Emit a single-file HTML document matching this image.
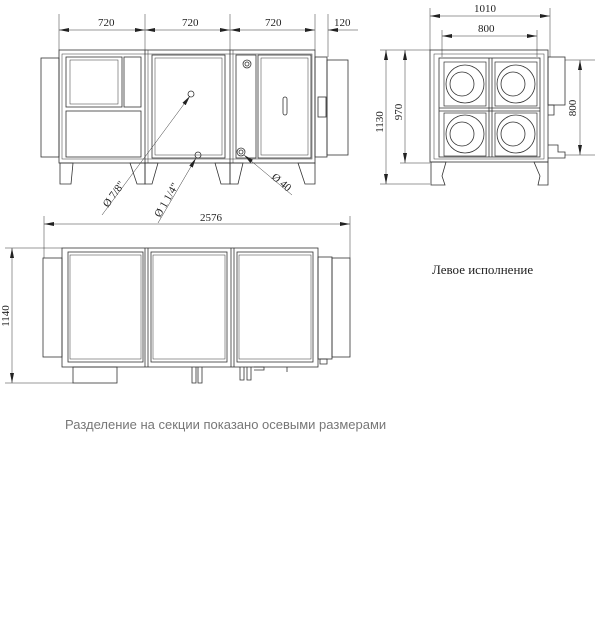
<!DOCTYPE html>
<html><head><meta charset="utf-8"><style>
html,body{margin:0;padding:0;background:#fff}
svg{display:block}
text{font-family:"Liberation Serif",serif;fill:#222}
</style></head><body>
<svg width="600" height="643" viewBox="0 0 600 643" xmlns="http://www.w3.org/2000/svg">
<defs>
<marker id="a" viewBox="0 0 10 4" refX="10" refY="2" markerWidth="10" markerHeight="4" orient="auto-start-reverse" markerUnits="userSpaceOnUse"><path d="M0,0 L10,2 L0,4z" fill="#222"/></marker>
</defs>
<g stroke="#333" fill="none" stroke-width="0.8">
<!-- TOP VIEW -->
<line x1="59" y1="14" x2="59" y2="50" stroke-width="0.5"/>
<line x1="145" y1="14" x2="145" y2="50" stroke-width="0.5"/>
<line x1="230" y1="14" x2="230" y2="50" stroke-width="0.5"/>
<line x1="315" y1="14" x2="315" y2="50" stroke-width="0.5"/>
<line x1="328" y1="14" x2="328" y2="57" stroke-width="0.5"/>
<line x1="59" y1="30" x2="145" y2="30" stroke-width="0.5" marker-start="url(#a)" marker-end="url(#a)"/>
<line x1="145" y1="30" x2="230" y2="30" stroke-width="0.5" marker-start="url(#a)" marker-end="url(#a)"/>
<line x1="230" y1="30" x2="315" y2="30" stroke-width="0.5" marker-start="url(#a)" marker-end="url(#a)"/>
<line x1="328" y1="30" x2="345" y2="30" stroke-width="0.5" marker-start="url(#a)"/>
<line x1="345" y1="30" x2="358" y2="30" stroke-width="0.5"/>
<rect x="41" y="58" width="18" height="99"/>
<rect x="315" y="57" width="12" height="100"/>
<rect x="327" y="60" width="21" height="95"/>
<rect x="59" y="50" width="256" height="113"/>
<rect x="62" y="54" width="250" height="105" stroke-width="0.5"/>
<line x1="145" y1="50" x2="145" y2="163"/><line x1="148" y1="50" x2="148" y2="163" stroke-width="0.5"/>
<line x1="230" y1="50" x2="230" y2="163"/><line x1="233" y1="50" x2="233" y2="163" stroke-width="0.5"/>
<rect x="66" y="57" width="56" height="50"/><rect x="70" y="60" width="48" height="44" stroke-width="0.5"/>
<rect x="124" y="57" width="17" height="50"/>
<rect x="66" y="111" width="75" height="46"/>
<rect x="152" y="55" width="73" height="103"/><rect x="155" y="58" width="67" height="97" stroke-width="0.5"/>
<rect x="236" y="55" width="20" height="103"/><rect x="258" y="55" width="53" height="103"/><rect x="261" y="58" width="47" height="97" stroke-width="0.5"/>
<circle cx="247" cy="64" r="4"/><circle cx="247" cy="64" r="2"/>
<circle cx="241" cy="152" r="4"/><circle cx="241" cy="152" r="2"/>
<circle cx="191" cy="94" r="3"/><circle cx="198" cy="155" r="3"/>
<rect x="283" y="97" width="4" height="18" rx="2"/>
<rect x="318" y="97" width="8" height="20"/>
<!-- feet -->
<path d="M60 163 H73 L71 184 H60 Z"/>
<path d="M130 163 H145 V184 H137 Z"/>
<path d="M145 163 H158 L152 184 H145 Z"/>
<path d="M215 163 H230 V184 H221 Z"/>
<path d="M230 163 H243 L238 184 H230 Z"/>
<path d="M298 163 H315 V184 H305 Z"/>
<!-- leaders -->
<line x1="190" y1="96" x2="102" y2="215" stroke-width="0.5" marker-start="url(#a)"/>
<line x1="196" y1="158" x2="158" y2="223" stroke-width="0.5" marker-start="url(#a)"/>
<line x1="244" y1="155" x2="292" y2="195" stroke-width="0.5" marker-start="url(#a)"/>
<!-- RIGHT VIEW -->
<line x1="430" y1="8" x2="430" y2="50" stroke-width="0.5"/>
<line x1="550" y1="8" x2="550" y2="57" stroke-width="0.5"/>
<line x1="442" y1="30" x2="442" y2="57" stroke-width="0.5"/>
<line x1="537" y1="30" x2="537" y2="57" stroke-width="0.5"/>
<line x1="430" y1="16" x2="550" y2="16" stroke-width="0.5" marker-start="url(#a)" marker-end="url(#a)"/>
<line x1="442" y1="36" x2="537" y2="36" stroke-width="0.5" marker-start="url(#a)" marker-end="url(#a)"/>
<line x1="380" y1="50" x2="430" y2="50" stroke-width="0.5"/>
<line x1="380" y1="184" x2="430" y2="184" stroke-width="0.5"/>
<line x1="400" y1="163" x2="430" y2="163" stroke-width="0.5"/>
<line x1="386" y1="50" x2="386" y2="184" stroke-width="0.5" marker-start="url(#a)" marker-end="url(#a)"/>
<line x1="405" y1="50" x2="405" y2="163" stroke-width="0.5" marker-start="url(#a)" marker-end="url(#a)"/>
<line x1="565" y1="60" x2="595" y2="60" stroke-width="0.5"/>
<line x1="565" y1="155" x2="595" y2="155" stroke-width="0.5"/>
<line x1="580" y1="60" x2="580" y2="155" stroke-width="0.5" marker-start="url(#a)" marker-end="url(#a)"/>
<rect x="430" y="50" width="118" height="112"/>
<rect x="434" y="54" width="110" height="105" stroke-width="0.5"/>
<rect x="439" y="58" width="101" height="99"/>
<rect x="548" y="57" width="17" height="48"/>
<path d="M548 105 H554 V115 H548 M548 145 H558 V152 H565 V158 H548"/>
<line x1="489" y1="58" x2="489" y2="157"/><line x1="492" y1="58" x2="492" y2="157"/>
<line x1="439" y1="108" x2="540" y2="108"/><line x1="439" y1="111" x2="540" y2="111"/>
<g stroke-width="0.7">
<rect x="444" y="62" width="42" height="44"/><rect x="495" y="62" width="42" height="44"/>
<rect x="444" y="113" width="42" height="43"/><rect x="495" y="113" width="42" height="43"/>
</g>
<g>
<circle cx="465" cy="84" r="19"/><circle cx="462" cy="84" r="12"/>
<circle cx="516" cy="84" r="19"/><circle cx="513" cy="84" r="12"/>
<circle cx="465" cy="134" r="19"/><circle cx="462" cy="134" r="12"/>
<circle cx="516" cy="134" r="19"/><circle cx="513" cy="134" r="12"/>
</g>
<path d="M431 162 H446 L442 176 L445 185 H431 Z M534 162 H548 V185 H538 L540 176 Z"/>
<!-- BOTTOM VIEW -->
<line x1="44" y1="216" x2="44" y2="258" stroke-width="0.5"/>
<line x1="350" y1="216" x2="350" y2="258" stroke-width="0.5"/>
<line x1="44" y1="224" x2="350" y2="224" stroke-width="0.5" marker-start="url(#a)" marker-end="url(#a)"/>
<line x1="5" y1="248" x2="62" y2="248" stroke-width="0.5"/>
<line x1="5" y1="383" x2="73" y2="383" stroke-width="0.5"/>
<line x1="12" y1="248" x2="12" y2="383" stroke-width="0.5" marker-start="url(#a)" marker-end="url(#a)"/>
<rect x="43" y="258" width="19" height="99"/>
<rect x="318" y="257" width="14" height="102"/>
<rect x="332" y="258" width="18" height="99"/>
<rect x="62" y="248" width="256" height="119"/>
<rect x="68" y="252" width="75" height="110"/><rect x="70" y="255" width="71" height="104" stroke-width="0.5"/>
<rect x="151" y="252" width="76" height="110"/><rect x="153" y="255" width="72" height="104" stroke-width="0.5"/>
<rect x="237" y="252" width="76" height="110"/><rect x="239" y="255" width="72" height="104" stroke-width="0.5"/>
<line x1="145" y1="248" x2="145" y2="367"/><line x1="148" y1="248" x2="148" y2="367"/>
<line x1="231" y1="248" x2="231" y2="367"/><line x1="234" y1="248" x2="234" y2="367"/>
<rect x="73" y="367" width="44" height="16"/>
<path d="M192 367 V383 H196 V367 M198 367 V383 H202 V367 M240 367 V380 H244 V367 M247 367 V380 H251 V367 M254 367 H264 V370 H254 M287 367 V372 M320 359 H327 V364 H320 Z"/>
</g>
<g font-size="11">
<text x="98" y="26">720</text><text x="182" y="26">720</text><text x="265" y="26">720</text><text x="334" y="26">120</text>
<text x="474" y="12">1010</text><text x="478" y="32">800</text>
<text transform="translate(383 122) rotate(-90)" text-anchor="middle">1130</text>
<text transform="translate(402 112) rotate(-90)" text-anchor="middle">970</text>
<text transform="translate(576 108) rotate(-90)" text-anchor="middle">800</text>
<text x="200" y="221">2576</text>
<text transform="translate(9 316) rotate(-90)" text-anchor="middle">1140</text>
<text transform="translate(108 208) rotate(-54)">Ø 7/8"</text>
<text transform="translate(160 218) rotate(-60)">Ø 1 1/4"</text>
<text transform="translate(271 178) rotate(40)">Ø 40</text>
<text x="432" y="274" font-size="13">Левое исполнение</text>
</g>
<text x="65" y="429" font-size="13" style="font-family:'Liberation Sans',sans-serif;fill:#777">Разделение на секции показано осевыми размерами</text>
</svg>
</body></html>
